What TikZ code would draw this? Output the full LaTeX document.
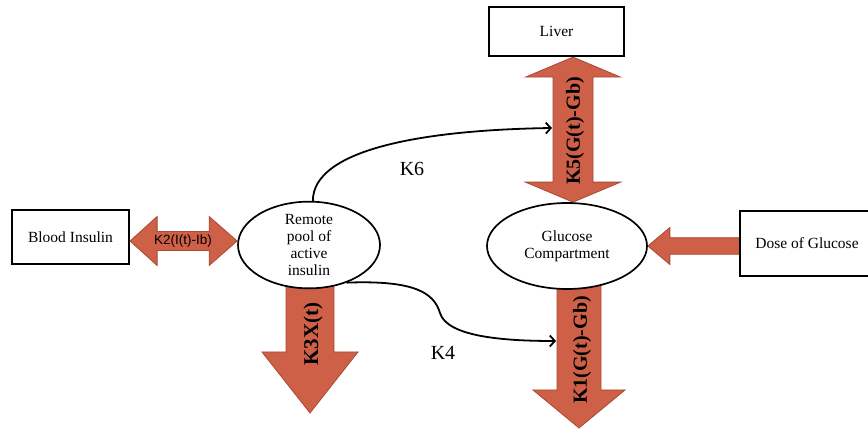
\documentclass[tikz,border=0pt]{standalone}
\usepackage{fontspec}
\setmainfont{Liberation Serif}
\newfontfamily\labelsans{Liberation Sans}
\usetikzlibrary{shapes.geometric,arrows.meta,calc,backgrounds}
\definecolor{fluxfill}{RGB}{207,96,72}
\definecolor{fluxedge}{RGB}{170,72,52}
\begin{document}
\begin{tikzpicture}[x=1pt,y=-1pt,
  organ/.style={draw=black, line width=2.2pt, fill=white, inner sep=0pt,
    font=\fontsize{15.5}{17}\selectfont},
  compartment/.style={ellipse, draw=black, line width=1.7pt, fill=white, inner sep=0pt,
    align=center, font=\fontsize{15.5}{17}\selectfont},
  flux/.style={fill=fluxfill, draw=fluxedge, line width=0.8pt, line join=miter},
  fluxlabel/.style={font=\bfseries\fontsize{20}{20}\selectfont, rotate=90, inner sep=0pt},
  rate/.style={font=\fontsize{20}{20}\selectfont, inner sep=0pt},
  link/.style={line width=1.8pt, -{Straight Barb[length=5pt,width=11pt]}}]

\useasboundingbox (0,0) rectangle (868,430);

% compartments and organs
\node[organ, minimum width=135pt, minimum height=49pt] (liver) at (556.5,31.5) {Liver};
\node[organ, minimum width=117pt, minimum height=54pt] (blood) at (70.5,237) {Blood Insulin};
\node[organ, minimum width=134pt, minimum height=65pt] (dose) at (807,243.5) {Dose of Glucose};
\node[compartment, minimum width=142pt, minimum height=84pt] (remote) at (309,245)
  {Remote\\pool of\\active\\insulin};
\node[compartment, minimum width=160pt, minimum height=86pt] (gluc) at (567,246)
  {Glucose\\Compartment};

% axes and free ends of the flux arrows
\coordinate (k5axis) at (573,0);
\coordinate (k2axis) at (0,241);
\coordinate (k3tip) at (310,413);
\coordinate (k1tip) at (579,428);
\coordinate (k6end) at (552,128);
\coordinate (k4end) at (556,341);

\begin{pgfonlayer}{background}
  % K5: liver <-> glucose compartment
  \path (liver.south -| k5axis) coordinate (k5t) (gluc.north -| k5axis) coordinate (k5b);
  \draw[flux] (k5t) -- ($(k5t)+(47.5,20)$) -- ($(k5t)+(20,20)$) -- ($(k5b)+(20,-20)$)
    -- ($(k5b)+(47.5,-20)$) -- (k5b) -- ($(k5b)+(-47.5,-20)$) -- ($(k5b)+(-20,-20)$)
    -- ($(k5t)+(-20,20)$) -- ($(k5t)+(-47.5,20)$) -- cycle;
  % K2: blood insulin <-> remote pool
  \path (blood.east |- k2axis) coordinate (k2l) (remote.west |- k2axis) coordinate (k2r);
  \draw[flux] (k2l) -- ($(k2l)+(27,-24.5)$) -- ($(k2l)+(27,-9.5)$) -- ($(k2r)+(-28,-9.5)$)
    -- ($(k2r)+(-28,-24.5)$) -- (k2r) -- ($(k2r)+(-28,24.5)$) -- ($(k2r)+(-28,9.5)$)
    -- ($(k2l)+(27,9.5)$) -- ($(k2l)+(27,24.5)$) -- cycle;
  % glucose dose into the glucose compartment
  \path (gluc.east) coordinate (dt) (dose.west |- gluc.east) coordinate (ds);
  \draw[flux] (dt) -- ($(dt)+(22,-18.5)$) -- ($(dt)+(22,-8.3)$) -- ($(ds)+(2,-8.3)$)
    -- ($(ds)+(2,8.3)$) -- ($(dt)+(22,8.3)$) -- ($(dt)+(22,18.5)$) -- cycle;
  % K3: removal from the remote pool
  \path ($(k3tip |- remote.south)+(0,-8)$) coordinate (k3s);
  \draw[flux] ($(k3s)+(-24,0)$) -- ($(k3s)+(24,0)$) -- ($(k3tip)+(24,-61)$)
    -- ($(k3tip)+(48,-61)$) -- (k3tip) -- ($(k3tip)+(-48,-61)$) -- ($(k3tip)+(-24,-61)$) -- cycle;
  % K1: removal from the glucose compartment
  \path ($(k1tip |- gluc.south)+(0,-8)$) coordinate (k1s);
  \draw[flux] ($(k1s)+(-22,0)$) -- ($(k1s)+(22,0)$) -- ($(k1tip)+(22,-38)$)
    -- ($(k1tip)+(46,-38)$) -- (k1tip) -- ($(k1tip)+(-46,-38)$) -- ($(k1tip)+(-22,-38)$) -- cycle;
\end{pgfonlayer}

% flux labels
\node[fluxlabel] (k5lab) at (575,131) {K5(G(t)-Gb)};
\node[fluxlabel] (k1lab) at (582,350) {K1(G(t)-Gb)};
\node[fluxlabel, font=\bfseries\fontsize{21}{21}\selectfont] (k3lab) at (313,334) {K3X(t)};
\node[inner sep=0pt, font=\labelsans\fontsize{13.5}{14}\selectfont] (k2lab) at (183,241.5) {K2(I(t)-Ib)};

% insulin action links
\draw[link] (remote.85) .. controls (313,150) and (420,130) .. (k6end);
\draw[link] (remote.-45) .. controls (415,280) and (434,293) .. (440,313)
  .. controls (447,336) and (500,341) .. (k4end);
\node[rate] (k6lab) at (412,169) {K6};
\node[rate] (k4lab) at (443,353) {K4};

\end{tikzpicture}
\end{document}
